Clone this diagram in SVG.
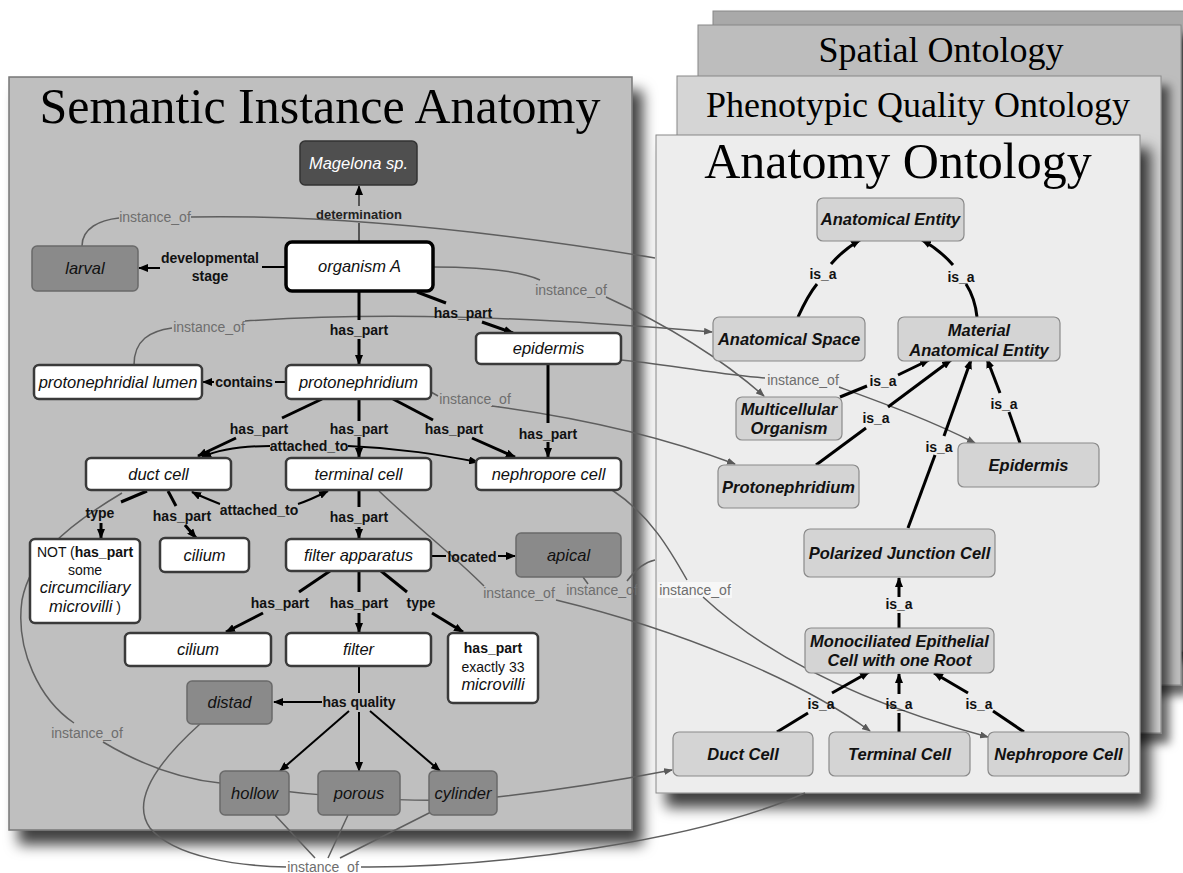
<svg xmlns="http://www.w3.org/2000/svg" width="1183" height="873" viewBox="0 0 1183 873">
<defs>
<filter id="sh" x="-10%" y="-10%" width="130%" height="130%">
<feDropShadow dx="10" dy="14" stdDeviation="7" flood-color="#000" flood-opacity="0.75"/>
</filter>
<filter id="sh2" x="-10%" y="-10%" width="130%" height="130%">
<feDropShadow dx="8" dy="10" stdDeviation="5" flood-color="#000" flood-opacity="0.6"/>
</filter>
<marker id="ab" markerWidth="10" markerHeight="8" refX="9" refY="4" orient="auto" markerUnits="userSpaceOnUse"><path d="M0,0 L10,4 L0,8 z" fill="#000"/></marker>
<marker id="ag" markerWidth="9" markerHeight="7" refX="8" refY="3.5" orient="auto" markerUnits="userSpaceOnUse"><path d="M0,0 L9,3.5 L0,7 z" fill="#5a5a5a"/></marker>
</defs>
<style>
.wn{fill:#fff;stroke:#3a3a3a;stroke-width:2.5}
.dn{fill:#8a8a8a;stroke:#6a6a6a;stroke-width:1.5}
.an{fill:#d4d4d4;stroke:#8a8a8a;stroke-width:1.2}
.t{font-family:"Liberation Sans",Arial,sans-serif;font-style:italic;font-size:16.5px;fill:#111;text-anchor:middle}
.ta{font-family:"Liberation Sans",Arial,sans-serif;font-style:italic;font-weight:bold;font-size:16.5px;fill:#111;text-anchor:middle}
.el{font-family:"Liberation Sans",Arial,sans-serif;font-weight:bold;font-size:14px;fill:#111;text-anchor:middle}
.io{font-family:"Liberation Sans",Arial,sans-serif;font-size:14px;fill:#6e6e6e;text-anchor:middle}
.pl{font-family:"Liberation Sans",Arial,sans-serif;font-size:14px;fill:#111;text-anchor:middle}
.ttl{font-family:"Liberation Serif","Times New Roman",serif;fill:#000;text-anchor:middle}
.e{stroke:#000;stroke-width:3;fill:none}
.et{stroke:#000;stroke-width:2;fill:none}
.g{stroke:#5e5e5e;stroke-width:1.5;fill:none}
</style>
<rect width="1183" height="873" fill="#fff"/>

<g id="panels">
<rect x="713" y="11" width="490" height="640" fill="#a9a9a9" stroke="#888" filter="url(#sh2)"/>
<rect x="698" y="25" width="483" height="660" fill="#bdbdbd" stroke="#888" filter="url(#sh2)"/>
<text class="ttl" x="941" y="62" font-size="36">Spatial Ontology</text>
<rect x="677" y="76" width="484" height="657" fill="#d5d5d5" stroke="#888" filter="url(#sh2)"/>
<text class="ttl" x="918" y="117" font-size="36">Phenotypic Quality Ontology</text>
<rect x="9" y="77" width="623" height="753" fill="#bfbfbf" stroke="#777" stroke-width="1.5" filter="url(#sh)"/>
<text class="ttl" x="320" y="123" font-size="50">Semantic Instance Anatomy</text>
<rect x="656" y="135" width="484" height="658" fill="#ededed" stroke="#888" filter="url(#sh)"/>
<text class="ttl" x="898" y="178" font-size="50">Anatomy Ontology</text>
</g>

<g id="connectors">
<!-- instance_of (gray) -->
<path class="g" d="M82,246 C82,228 100,220 119,218"/>
<text class="io" x="155" y="222">instance_of</text>
<path class="g" d="M191,217 C300,215 450,224 655,258"/>
<path class="g" d="M433,267 C480,267 520,271 540,280"/>
<text class="io" x="571" y="295">instance_of</text>
<path class="g" d="M606,297 Q700,340 764,396" marker-end="url(#ag)"/>
<path class="g" d="M134,365 C134,340 150,331 172,328"/>
<text class="io" x="209" y="332">instance_of</text>
<path class="g" d="M245,321 C380,312 520,316 712,332" marker-end="url(#ag)"/>
<path class="g" d="M621,360 C680,366 720,375 765,378"/>
<text class="io" x="803" y="385">instance_of</text>
<path class="g" d="M839,387 C880,402 930,420 975,443" marker-end="url(#ag)"/>
<path class="g" d="M431,392 L438,396"/>
<text class="io" x="475" y="404">instance_of</text>
<path class="g" d="M492,406 C560,415 650,432 735,464" marker-end="url(#ag)"/>
<path class="g" d="M379,491 C420,530 450,552 484,586"/>
<text class="io" x="519" y="598">instance_of</text>
<path class="g" d="M556,600 C680,630 800,680 870,731" marker-end="url(#ag)"/>
<path class="g" d="M612,490 C650,515 670,550 687,580"/>
<rect x="658" y="582" width="74" height="16" fill="#f7f7f7"/>
<text class="io" x="695" y="595">instance_of</text>
<path class="g" d="M703,597 C760,650 850,700 988,737" marker-end="url(#ag)"/>
<path class="g" d="M583,577 L588,584"/>
<text class="io" x="602" y="595">instance_of</text>
<path class="g" d="M627,581 C635,570 645,562 655,560"/>
<path class="g" d="M122,493 C60,530 30,560 22,600 C15,650 40,700 74,723"/>
<text class="io" x="87" y="738">instance_of</text>
<path class="g" d="M103,742 C150,770 190,780 220,783 C300,795 420,806 497,797 C560,790 620,780 672,770" marker-end="url(#ag)"/>
<path class="g" d="M200,724 C160,760 130,800 150,828 C175,858 240,866 287,867"/>
<path class="g" d="M275,815 L315,858 M348,815 L328,858 M431,812 L340,858"/>
<rect x="286" y="859" width="76" height="14" fill="#fff"/>
<text class="io" x="323" y="872">instance_of</text>
<path class="g" d="M361,867 C500,868 700,840 805,793"/>

<!-- left panel relations -->
<path class="g" style="stroke:#333" d="M359,242 V223"/>
<text class="el" x="359" y="219" font-size="13" style="font-size:13px;fill:#222">determination</text>
<path class="g" style="stroke:#333" d="M359,206 V186" marker-end="url(#ab)"/>
<path class="et" d="M286,267 H262"/>
<text class="el" x="210" y="263">developmental</text>
<text class="el" x="210" y="281">stage</text>
<path class="et" d="M160,268 H139" marker-end="url(#ab)"/>
<path class="e" d="M359,291 V320"/>
<text class="el" x="359" y="335">has_part</text>
<path class="e" d="M359,339 V364" marker-end="url(#ab)"/>
<path class="e" d="M417,292 L446,303"/>
<text class="el" x="463" y="318">has_part</text>
<path class="e" d="M482,322 L513,333" marker-end="url(#ab)"/>
<path class="et" d="M286,382 H275"/>
<text class="el" x="244" y="387">contains</text>
<path class="et" d="M214,382 H203" marker-end="url(#ab)"/>
<path class="e" d="M322,399 L282,418"/>
<text class="el" x="259" y="434">has_part</text>
<path class="e" d="M236,438 L198,456" marker-end="url(#ab)"/>
<path class="e" d="M359,399 V421"/>
<text class="el" x="359" y="434">has_part</text>
<path class="e" d="M359,437 V457" marker-end="url(#ab)"/>
<path class="e" d="M393,399 L433,420"/>
<text class="el" x="454" y="434">has_part</text>
<path class="e" d="M472,438 L515,457" marker-end="url(#ab)"/>
<path class="e" d="M548,364 V423"/>
<text class="el" x="548" y="439">has_part</text>
<path class="e" d="M548,442 V457" marker-end="url(#ab)"/>
<path class="et" d="M270,446 C245,446 220,449 202,457" marker-end="url(#ab)"/>
<text class="el" x="309" y="451">attached_to</text>
<path class="et" d="M348,446 C400,448 440,455 478,462" marker-end="url(#ab)"/>
<path class="e" d="M147,491 L121,502"/>
<text class="el" x="100" y="518">type</text>
<path class="e" d="M101,523 V538" marker-end="url(#ab)"/>
<path class="e" d="M168,491 L176,506"/>
<text class="el" x="182" y="521">has_part</text>
<path class="e" d="M185,525 L196,538" marker-end="url(#ab)"/>
<path class="et" d="M220,504 C210,500 200,496 192,492" marker-end="url(#ab)"/>
<text class="el" x="259" y="515">attached_to</text>
<path class="et" d="M298,504 C310,500 318,496 328,491" marker-end="url(#ab)"/>
<path class="e" d="M359,490 V507"/>
<text class="el" x="359" y="522">has_part</text>
<path class="e" d="M359,527 V538" marker-end="url(#ab)"/>
<path class="et" d="M431,556 H446"/>
<text class="el" x="472" y="562">located</text>
<path class="et" d="M498,556 H515" marker-end="url(#ab)"/>
<path class="e" d="M330,571 L299,592"/>
<text class="el" x="280" y="608">has_part</text>
<path class="e" d="M263,613 L226,632" marker-end="url(#ab)"/>
<path class="e" d="M359,571 V592"/>
<text class="el" x="359" y="608">has_part</text>
<path class="e" d="M359,613 V632" marker-end="url(#ab)"/>
<path class="e" d="M381,571 L407,592"/>
<text class="el" x="421" y="608">type</text>
<path class="e" d="M432,613 L463,632" marker-end="url(#ab)"/>
<path class="et" d="M359,666 V693"/>
<text class="el" x="359" y="707">has quality</text>
<path class="et" d="M322,702 H274" marker-end="url(#ab)"/>
<path class="et" d="M349,711 L280,771" marker-end="url(#ab)"/>
<path class="et" d="M359,712 V771" marker-end="url(#ab)"/>
<path class="et" d="M370,711 L440,771" marker-end="url(#ab)"/>

<!-- anatomy ontology is_a -->
<path class="e" d="M798,317 Q808,295 817,284"/>
<text class="el" x="823" y="279">is_a</text>
<path class="e" d="M831,264 Q843,250 860,240" marker-end="url(#ab)"/>
<path class="e" d="M977,317 Q975,298 966,284"/>
<text class="el" x="961" y="282">is_a</text>
<path class="e" d="M953,265 Q940,250 922,240" marker-end="url(#ab)"/>
<path class="e" d="M840,397 L867,386"/>
<text class="el" x="883" y="386">is_a</text>
<path class="e" d="M898,375 L929,360" marker-end="url(#ab)"/>
<path class="e" d="M816,465 L866,428"/>
<text class="el" x="876" y="423">is_a</text>
<path class="e" d="M888,407 L951,360" marker-end="url(#ab)"/>
<path class="e" d="M908,528 L935,455"/>
<text class="el" x="939" y="452">is_a</text>
<path class="e" d="M944,436 L971,360" marker-end="url(#ab)"/>
<path class="e" d="M1020,443 L1009,412"/>
<text class="el" x="1004" y="409">is_a</text>
<path class="e" d="M1000,393 L987,359" marker-end="url(#ab)"/>
<path class="e" d="M899,628 V613"/>
<text class="el" x="899" y="609">is_a</text>
<path class="e" d="M899,597 V578" marker-end="url(#ab)"/>
<path class="e" d="M777,732 L808,713"/>
<text class="el" x="821" y="709">is_a</text>
<path class="e" d="M832,693 L869,672" marker-end="url(#ab)"/>
<path class="e" d="M899,732 V713"/>
<text class="el" x="899" y="709">is_a</text>
<path class="e" d="M899,694 V674" marker-end="url(#ab)"/>
<path class="e" d="M1024,732 L993,711"/>
<text class="el" x="979" y="709">is_a</text>
<path class="e" d="M968,693 L934,673" marker-end="url(#ab)"/>
</g>

<g id="n-magelona"><rect x="300" y="141" width="117" height="44" rx="5" fill="#4f4f4f" stroke="#333" stroke-width="1.5"/><text class="t" x="358.5" y="169" style="fill:#fff">Magelona sp.</text></g>
<g id="n-larval"><rect class="dn" x="32" y="246" width="106" height="45" rx="5"/><text class="t" x="85" y="274">larval</text></g>
<g id="n-organism"><rect x="286" y="242" width="147" height="49" rx="6" fill="#fff" stroke="#000" stroke-width="3.5"/><text class="t" x="359.5" y="272">organism A</text></g>
<g id="n-epidermis"><rect class="wn" x="476" y="333" width="145" height="31" rx="5"/><text class="t" x="548.5" y="354">epidermis</text></g>
<g id="n-lumen"><rect class="wn" x="34" y="365" width="168" height="34" rx="5"/><text class="t" x="118" y="388">protonephridial lumen</text></g>
<g id="n-protonephridium"><rect class="wn" x="286" y="365" width="145" height="34" rx="5"/><text class="t" x="358.5" y="388">protonephridium</text></g>
<g id="n-duct"><rect class="wn" x="86" y="458" width="145" height="32" rx="5"/><text class="t" x="158.5" y="480">duct cell</text></g>
<g id="n-terminal"><rect class="wn" x="286" y="458" width="145" height="32" rx="5"/><text class="t" x="358.5" y="480">terminal cell</text></g>
<g id="n-nephropore"><rect class="wn" x="476" y="458" width="145" height="32" rx="5"/><text class="t" x="548.5" y="480">nephropore cell</text></g>
<g id="n-not"><rect class="wn" x="30" y="539" width="110" height="84" rx="5"/>
<text class="pl" x="85" y="557">NOT (<tspan font-weight="bold">has_part</tspan></text>
<text class="pl" x="85" y="575">some</text>
<text class="t" x="85" y="593">circumciliary</text>
<text class="t" x="85" y="612">microvilli<tspan style="font-style:normal;font-size:14px"> )</tspan></text></g>
<g id="n-cilium1"><rect class="wn" x="160" y="538" width="89" height="34" rx="5"/><text class="t" x="204.5" y="561">cilium</text></g>
<g id="n-filterapp"><rect class="wn" x="286" y="539" width="145" height="32" rx="5"/><text class="t" x="358.5" y="561">filter apparatus</text></g>
<g id="n-apical"><rect class="dn" x="516" y="533" width="105" height="44" rx="5"/><text class="t" x="568.5" y="561">apical</text></g>
<g id="n-cilium2"><rect class="wn" x="125" y="633" width="146" height="33" rx="5"/><text class="t" x="198" y="655">cilium</text></g>
<g id="n-filter"><rect class="wn" x="286" y="633" width="145" height="33" rx="5"/><text class="t" x="358.5" y="655">filter</text></g>
<g id="n-exactly"><rect class="wn" x="448" y="633" width="90" height="70" rx="5"/>
<text class="el" x="493" y="653">has_part</text>
<text class="pl" x="493" y="672">exactly 33</text>
<text class="t" x="493" y="690">microvilli</text></g>
<g id="n-distad"><rect class="dn" x="187" y="681" width="85" height="43" rx="5"/><text class="t" x="229.5" y="708">distad</text></g>
<g id="n-hollow"><rect class="dn" x="220" y="771" width="69" height="44" rx="5"/><text class="t" x="254.5" y="799">hollow</text></g>
<g id="n-porous"><rect class="dn" x="318" y="771" width="82" height="44" rx="5"/><text class="t" x="359" y="799">porous</text></g>
<g id="n-cylinder"><rect class="dn" x="429" y="771" width="68" height="44" rx="5"/><text class="t" x="463" y="799">cylinder</text></g>

<g id="a-entity"><rect class="an" x="817" y="198" width="147" height="43" rx="6"/><text class="ta" x="890.5" y="225">Anatomical Entity</text></g>
<g id="a-space"><rect class="an" x="713" y="317" width="152" height="44" rx="6"/><text class="ta" x="789" y="345">Anatomical Space</text></g>
<g id="a-material"><rect class="an" x="898" y="317" width="162" height="44" rx="6"/><text class="ta" x="979" y="336">Material</text><text class="ta" x="979" y="356">Anatomical Entity</text></g>
<g id="a-multicellular"><rect class="an" x="736" y="397" width="106" height="43" rx="6"/><text class="ta" x="789" y="415">Multicellular</text><text class="ta" x="789" y="434">Organism</text></g>
<g id="a-epidermis"><rect class="an" x="958" y="443" width="141" height="44" rx="6"/><text class="ta" x="1028.5" y="471">Epidermis</text></g>
<g id="a-protonephridium"><rect class="an" x="718" y="465" width="141" height="43" rx="6"/><text class="ta" x="788.5" y="493">Protonephridium</text></g>
<g id="a-polarized"><rect class="an" x="804" y="529" width="191" height="48" rx="6"/><text class="ta" x="899.5" y="559">Polarized Junction Cell</text></g>
<g id="a-monociliated"><rect class="an" x="805" y="628" width="189" height="45" rx="6"/><text class="ta" x="899.5" y="647">Monociliated Epithelial</text><text class="ta" x="899.5" y="666">Cell with one Root</text></g>
<g id="a-duct"><rect class="an" x="673" y="732" width="140" height="44" rx="6"/><text class="ta" x="743" y="760">Duct Cell</text></g>
<g id="a-terminal"><rect class="an" x="829" y="732" width="141" height="44" rx="6"/><text class="ta" x="899.5" y="760">Terminal Cell</text></g>
<g id="a-nephropore"><rect class="an" x="988" y="732" width="141" height="44" rx="6"/><text class="ta" x="1058.5" y="760">Nephropore Cell</text></g>
</svg>
